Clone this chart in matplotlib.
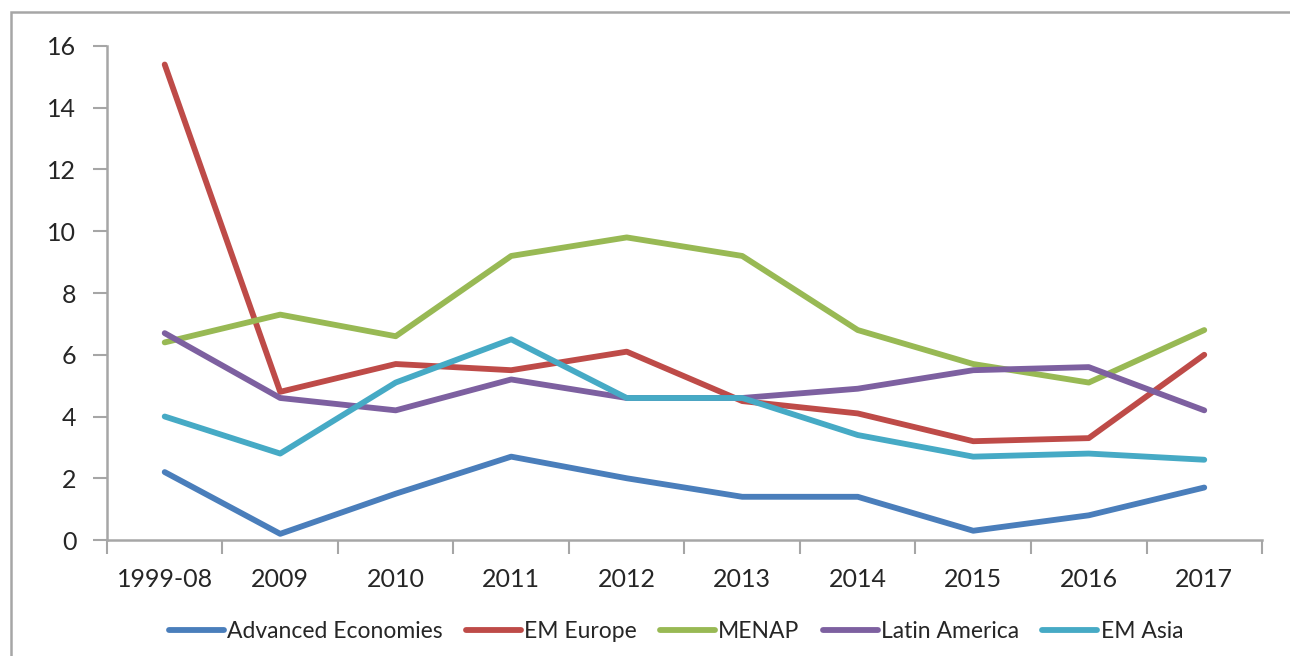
import matplotlib.pyplot as plt
import numpy as np
from matplotlib.patches import Rectangle

# Periods on the x axis
periods = ["1999-08", "2009", "2010", "2011", "2012", "2013", "2014", "2015", "2016", "2017"]

# Series values by region
advanced = [2.2, 0.2, 1.5, 2.7, 2.0, 1.4, 1.4, 0.3, 0.8, 1.7]
em_europe = [15.4, 4.8, 5.7, 5.5, 6.1, 4.5, 4.1, 3.2, 3.3, 6.0]
menap = [6.4, 7.3, 6.6, 9.2, 9.8, 9.2, 6.8, 5.7, 5.1, 6.8]
latin_america = [6.7, 4.6, 4.2, 5.2, 4.6, 4.6, 4.9, 5.5, 5.6, 4.2]
em_asia = [4.0, 2.8, 5.1, 6.5, 4.6, 4.6, 3.4, 2.7, 2.8, 2.6]

series = [
    ("Advanced Economies", advanced, "#4A7EBB"),
    ("EM Europe", em_europe, "#BE4B48"),
    ("MENAP", menap, "#98B954"),
    ("Latin America", latin_america, "#7D60A0"),
    ("EM Asia", em_asia, "#46AAC5"),
]

plt.rcParams["font.family"] = ["Lato", "DejaVu Sans"]
AXIS_GREY = "#A6A6A6"
TEXT = "#262626"

fig = plt.figure(figsize=(12.9, 6.56), dpi=100)
ax = fig.add_axes([0.0829, 0.1768, 0.8954, 0.7531])

x = np.arange(len(periods))
for name, vals, color in series:
    ax.plot(x, vals, color=color, lw=4.2, label=name, solid_capstyle="round",
            solid_joinstyle="round")

ax.set_xlim(-0.5, len(periods) - 0.5)
ax.set_ylim(0, 16)
ax.set_yticks(np.arange(0, 17, 2))
ax.set_yticklabels([str(v) for v in range(0, 17, 2)])

# category labels centred, ticks on category boundaries
ax.set_xticks(x)
ax.set_xticklabels(periods)
ax.set_xticks(np.arange(-0.5, len(periods)), minor=True)
ax.tick_params(axis="x", which="major", length=0, pad=20, labelsize=18, labelcolor=TEXT)
ax.tick_params(axis="x", which="minor", length=10, width=1.5, color=AXIS_GREY)
ax.tick_params(axis="y", length=10, width=1.5, color=AXIS_GREY, pad=12,
               labelsize=18, labelcolor=TEXT)

for side in ("top", "right"):
    ax.spines[side].set_visible(False)
for side in ("left", "bottom"):
    ax.spines[side].set_color(AXIS_GREY)
    ax.spines[side].set_linewidth(1.8)

leg = fig.legend(loc="center", bbox_to_anchor=(0.524, 0.038), ncol=5, frameon=False,
                 fontsize=16.5, handlelength=2.4, handletextpad=0.15, columnspacing=1.0)
for t in leg.get_texts():
    t.set_color(TEXT)

# outer chart frame
fig.patches.append(Rectangle((11 / 1290, -0.05), 1.1, 1 - 12 / 656 + 0.05,
                             transform=fig.transFigure, fill=False,
                             edgecolor=AXIS_GREY, lw=1.8))

fig.savefig("out.png", dpi=100)
